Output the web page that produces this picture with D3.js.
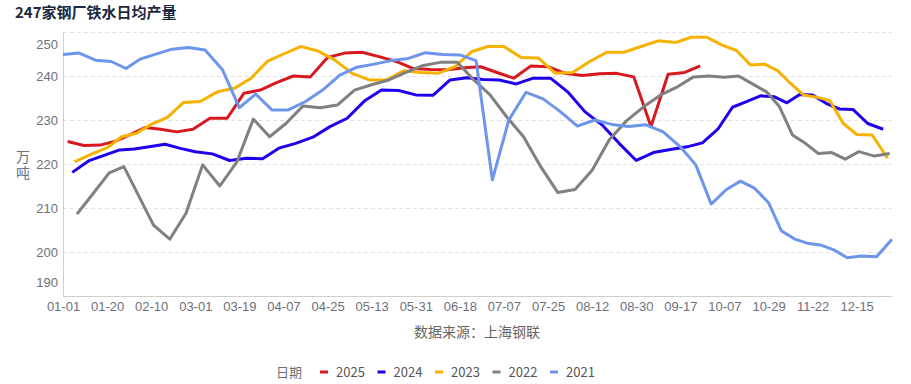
<!DOCTYPE html>
<html>
<head>
<meta charset="utf-8">
<script src="https://cdn.jsdelivr.net/npm/d3@7"></script>
<style>
    body { margin: 0; background: #fff; }
    svg { display: block; font-family: "Noto Sans CJK SC", "Noto Sans", sans-serif; }
</style>
</head>
<body>
<div id="chart"></div>
<script>
(function () {
    'use strict';

    var title = '247家钢厂铁水日均产量';
    var unitLabel = '万吨';
    var sourceText = '数据来源：上海钢联';
    var legendTitle = '日期';

    // x axis labels (category labels shown by the original chart)
    var tickLabels = ['01-01', '01-20', '02-10', '03-01', '03-19', '04-07', '04-25', '05-13', '05-31',
        '06-18', '07-07', '07-25', '08-12', '08-30', '09-17', '10-07', '10-29', '11-22', '12-15'];
    var lastDay = '12-31';
    var yTicks = [190, 200, 210, 220, 230, 240, 250];

    var years = ['2025', '2024', '2023', '2022', '2021'];
    // first weekly release of each year, values below are one per week (null = no release)
    var startDates = {
        '2025': '2025-01-03',
        '2024': '2024-01-05',
        '2023': '2023-01-06',
        '2022': '2022-01-07',
        '2021': '2021-01-01'
    };

    var v2025 = [225.1, 224.2, 224.3, 225.2, 226.7, 228.3, 227.9, 227.3, 227.9, 230.4, 230.4, 236.1, 236.8,
        238.5, 240.0, 239.8, 244.2, 245.2, 245.4, 244.4, 243.3, 241.7, 241.5, 241.4, 241.9, 242.1,
        240.8, 239.5, 242.3, 242.1, 240.6, 240.1, 240.5, 240.6, 239.8, 228.5, 240.4, 240.8, 242.3];
    var v2024 = [218.1, 220.7, 222.0, 223.2, 223.4, 223.9, 224.5, 223.5, 222.8, 222.3, 220.8, 221.3, 221.2,
        223.6, 224.7, 226.1, 228.5, 230.4, 234.3, 236.8, 236.7, 235.7, 235.6, 239.1, 239.6, 239.2,
        239.1, 238.2, 239.5, 239.5, 236.4, 231.9, 228.9, 224.7, 220.8, 222.6, 223.3, 223.9, 224.8,
        227.9, 232.9, 234.2, 235.5, 235.3, 233.9, 235.8, 235.7, 233.8, 232.5, 232.4, 229.2, 227.9];
    var v2023 = [220.5, 222.2, 223.7, 226.2, 227.0, 229.0, 230.6, 234.0, 234.2, 236.4, 237.2, 239.5, 243.3,
        245.0, 246.7, 245.7, 243.6, 240.6, 239.1, 239.1, 241.2, 240.8, 240.6, 242.1, 245.5, 246.7,
        246.7, 244.2, 244.1, 240.6, 240.8, 243.3, 245.4, 245.4, 246.7, 248.0, 247.6, 248.8, 248.8,
        247.0, 245.8, 242.5, 242.7, 241.2, 238.3, 235.7, 235.2, 234.4, 229.2, 226.7, 226.6, 221.3];
    var v2022 = [208.6, 213.3, 218.0, 219.4, null, 206.1, 202.9, 208.8, 219.8, 215.0, 220.5, 230.2, 226.2,
        229.2, 233.2, 232.8, 233.4, 236.8, 238.0, 239.1, 240.8, 242.4, 243.1, 243.1, 239.1, 235.7,
        230.8, 226.2, 219.4, 213.5, 214.2, 218.6, 225.5, 229.8, 233.0, 235.7, 237.6, 239.8, 240.0,
        239.7, 240.0, 238.2, 236.4, 233.0, 226.6, 224.7, 222.4, 222.6, 221.1, 222.8, 221.8, 222.4];
    var v2021 = [244.9, 245.2, 243.6, 243.3, 241.7, 243.9, null, 246.1, 246.5, 245.9, 241.5, 232.8, 235.9,
        232.3, 232.3, 234.2, 236.8, 240.2, 242.0, 242.7, 243.5, 244.0, 245.3, 244.9, 244.8, 243.5,
        216.4, 230.0, 236.3, 234.8, 231.9, 228.6, 230.0, 229.0, 228.5, 228.9, 227.3, 223.9, 219.8,
        210.9, 214.2, 216.1, 214.5, 211.2, 204.8, 203.0, 202.0, 201.6, 200.5, 198.7, 199.1, 198.9, 202.9];
    var values = { '2025': v2025, '2024': v2024, '2023': v2023, '2022': v2022, '2021': v2021 };

    var colors = {
        '2025': '#d7191f',
        '2024': '#1f00ec',
        '2023': '#f7b200',
        '2022': '#808080',
        '2021': '#6d95ec'
    };

    var width = 911, height = 384;
    var margin = { top: 32, right: 19, bottom: 88, left: 63 };

    var svg = d3.select('#chart').append('svg')
        .attr('width', width)
        .attr('height', height);

    // day of year from "MM-DD" (non leap reference year)
    var parseMD = d3.timeParse('%m-%d');
    var fmtMD = d3.timeFormat('%m-%d');
    var dayOf = function (md) {
        var d = parseMD(md);
        return d3.timeDay.count(d3.timeYear(d), d);
    };

    // category axis: labels evenly spaced, dates placed between them
    var n = tickLabels.length;
    var xIdx = d3.scaleLinear()
        .domain(tickLabels.map(dayOf).concat([dayOf(lastDay)]))
        .range(d3.range(n).concat([n - 1 + 0.8]));
    var x = d3.scaleLinear()
        .domain([0, n - 1 + 0.8])
        .range([margin.left, width - margin.right]);
    var y = d3.scaleLinear()
        .domain([190, 250])
        .range([height - margin.bottom, margin.top]);

    // grid
    svg.append('g')
        .attr('transform', 'translate(' + margin.left + ',0)')
        .call(d3.axisLeft(y).tickValues(yTicks.slice(1)).tickSize(-(width - margin.left - margin.right)).tickFormat(''))
        .call(function (g) {
            g.select('.domain').remove();
            g.selectAll('line').attr('stroke', '#e3e3e3').attr('stroke-dasharray', '4,3');
        });

    // y axis
    var yAxis = svg.append('g')
        .attr('transform', 'translate(' + margin.left + ',0)')
        .call(d3.axisLeft(y).tickValues(yTicks).tickSize(0).tickPadding(5));
    yAxis.select('.domain').attr('stroke', '#cfcfcf');
    yAxis.selectAll('text')
        .attr('fill', '#6e7079')
        .style('font-size', '13px')
        .attr('dy', function (d) {
            if (d === 250) return '1.3em';
            if (d === 190) return '-0.75em';
            return '0.32em';
        });

    // x axis
    var xAxis = svg.append('g')
        .attr('transform', 'translate(0,' + (height - margin.bottom) + ')')
        .call(d3.axisBottom(x).tickValues(d3.range(n)).tickFormat(function (i) { return tickLabels[i]; })
            .tickSize(0).tickPadding(6));
    xAxis.select('.domain').attr('stroke', '#cfcfcf');
    xAxis.selectAll('text')
        .attr('fill', '#6e7079')
        .style('font-size', '13px');

    // lines
    var line = d3.line()
        .x(function (d) { return x(xIdx(d.day)); })
        .y(function (d) { return y(d.value); });

    years.forEach(function (yr) {
        var start = d3.timeParse('%Y-%m-%d')(startDates[yr]);
        var pts = values[yr].map(function (v, i) {
            var dt = d3.timeDay.offset(start, 7 * i);
            return { day: dayOf(fmtMD(dt)), value: v };
        }).filter(function (d) { return d.value !== null; });
        svg.append('path')
            .datum(pts)
            .attr('fill', 'none')
            .attr('stroke', colors[yr])
            .attr('stroke-width', 3)
            .attr('stroke-linejoin', 'round')
            .attr('d', line);
    });

    // title
    svg.append('text')
        .attr('x', 15)
        .attr('y', 18)
        .attr('fill', '#1b2840')
        .style('font-size', '15px')
        .style('font-weight', 'bold')
        .text(title);

    // unit, written top to bottom
    svg.append('text')
        .attr('x', 23)
        .attr('y', 166)
        .attr('text-anchor', 'middle')
        .attr('fill', '#6e7079')
        .style('writing-mode', 'vertical-rl')
        .style('letter-spacing', '2px')
        .style('font-size', '14px')
        .text(unitLabel);

    // source
    svg.append('text')
        .attr('x', 477)
        .attr('y', 337)
        .attr('text-anchor', 'middle')
        .attr('fill', '#666')
        .style('font-size', '14px')
        .text(sourceText);

    // legend
    var legend = svg.append('g').attr('transform', 'translate(0,372)');
    legend.append('text')
        .attr('x', 276)
        .attr('dy', '0.35em')
        .attr('fill', '#6e7079')
        .style('font-size', '13px')
        .text(legendTitle);
    var item = legend.selectAll('.item')
        .data(years)
        .enter().append('g')
        .attr('class', 'item')
        .attr('transform', function (d, i) { return 'translate(' + (320 + i * 57.5) + ',0)'; });
    item.append('line')
        .attr('x1', 0).attr('x2', 8)
        .attr('stroke', function (d) { return colors[d]; })
        .attr('stroke-width', 3);
    item.append('text')
        .attr('x', 16)
        .attr('dy', '0.35em')
        .attr('fill', '#555')
        .style('font-size', '13px')
        .text(function (d) { return d; });
})();
</script>
</body>
</html>
